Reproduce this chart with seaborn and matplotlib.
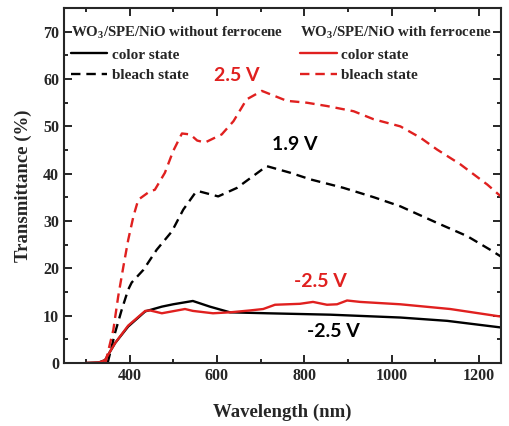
import numpy as np
import pandas as pd
import matplotlib
matplotlib.use("Agg")
import matplotlib.pyplot as plt
import seaborn as sns
from matplotlib.lines import Line2D
from matplotlib.ticker import MultipleLocator

# without ferrocene, color state (solid black)
wo_color_wl = [300, 330, 344, 367, 397, 436, 474, 500, 545, 584, 630, 715, 860, 1020, 1127, 1250]
wo_color_t = [0, 0.1, 0.6, 4.2, 7.7, 10.9, 11.9, 12.4, 13.1, 11.9, 10.7, 10.5, 10.2, 9.6, 8.9, 7.5]

# with ferrocene, color state (solid red)
w_color_wl = [300, 330, 344, 367, 397, 436, 447, 474, 527, 545, 591, 630, 676, 706, 733, 790,
              820, 852, 875, 898, 928, 1020, 1134, 1250]
w_color_t = [0, 0.1, 0.6, 4.2, 7.9, 11.0, 11.1, 10.5, 11.4, 11.0, 10.5, 10.7, 11.1, 11.4, 12.3, 12.5,
             12.9, 12.3, 12.4, 13.2, 12.9, 12.4, 11.4, 9.8]

# with ferrocene, bleach state (dashed red)
w_bleach_wl = [345, 348, 363, 374, 386, 397, 409, 420, 447, 458, 481, 500, 520, 539, 555, 573,
               611, 638, 668, 703, 760, 806, 852, 913, 959, 1020, 1066, 1104, 1157, 1219, 1250]
w_bleach_t = [0, 1.3, 7, 14, 20.4, 26, 31, 34.5, 36.3, 36.6, 40.2, 44.8, 48.5, 48.3, 47, 46.6,
              48.3, 51.1, 55.7, 57.5, 55.4, 55, 54.3, 53.2, 51.5, 50, 47.6, 45.1, 42, 37.7, 35.2]

# without ferrocene, bleach state (dashed black)
wo_bleach_wl = [350, 367, 382, 397, 405, 432, 462, 497, 523, 550, 558, 603, 646, 714, 768, 814,
                890, 960, 1020, 1104, 1173, 1226, 1250]
wo_bleach_t = [0, 6.4, 11.2, 15.5, 17, 19.7, 23.9, 27.8, 32.4, 35.9, 36.3, 35.2, 37, 41.6, 40.2, 38.8,
               37, 35, 33.1, 29.6, 26.8, 23.9, 22.5]

# voltage annotations (text, wavelength, transmittance, colour key)
annot_text = ["2.5 V", "1.9 V", "-2.5 V", "-2.5 V"]
annot_wl = [646, 779, 836, 866]
annot_t = [60.8, 46.2, 17.2, 6.6]
annot_sample = ["with", "without", "with", "without"]

RED = "#e0201f"
BLACK = "#000000"

frames = []
for wl, t, sample, state in [
    (wo_color_wl, wo_color_t, "without", "color"),
    (wo_bleach_wl, wo_bleach_t, "without", "bleach"),
    (w_color_wl, w_color_t, "with", "color"),
    (w_bleach_wl, w_bleach_t, "with", "bleach"),
]:
    frames.append(pd.DataFrame({"wl": wl, "T": t, "sample": sample, "state": state}))
df = pd.concat(frames, ignore_index=True)

sns.set_style("ticks")
plt.rcParams["font.family"] = ["Liberation Serif", "DejaVu Serif"]
plt.rcParams["font.weight"] = "bold"
plt.rcParams["mathtext.fontset"] = "custom"
plt.rcParams["mathtext.rm"] = "Liberation Serif:bold"
plt.rcParams["mathtext.it"] = "Liberation Serif:bold"
plt.rcParams["mathtext.default"] = "rm"

fig = plt.figure(figsize=(5.09, 4.26), dpi=100)
ax = fig.add_axes([0.1257, 0.148, 0.8583, 0.833])

palette = {"without": BLACK, "with": RED}
dashes = {"color": "", "bleach": (4, 2.5)}
sns.lineplot(data=df, x="wl", y="T", hue="sample", style="state", palette=palette,
             dashes=dashes, estimator=None, sort=False, lw=1.7, legend=False, ax=ax)

ax.set_xlim(250, 1250)
ax.set_ylim(0, 75)
ax.xaxis.set_major_locator(MultipleLocator(200))
ax.xaxis.set_minor_locator(MultipleLocator(100))
ax.yaxis.set_major_locator(MultipleLocator(10))
ax.yaxis.set_minor_locator(MultipleLocator(5))
ax.tick_params(which="both", direction="in", top=True, right=True, width=1.4, labelsize=11.5)
ax.tick_params(which="major", length=5.5)
ax.tick_params(which="minor", length=3)
ax.tick_params(axis="x", labeltop=False)
for sp in ax.spines.values():
    sp.set_linewidth(1.5)
for lab in ax.get_xticklabels() + ax.get_yticklabels():
    lab.set_fontweight("bold")

ax.set_xlabel("Wavelength (nm)", fontsize=13.5, fontweight="bold", labelpad=14)
ax.set_ylabel("Transmittance (%)", fontsize=13.5, fontweight="bold", labelpad=8)

for txt, x, y, s in zip(annot_text, annot_wl, annot_t, annot_sample):
    ax.text(x, y, txt, color=palette[s], ha="center", va="center",
            fontsize=14, fontweight="bold", family=["Lato", "DejaVu Sans"])

def make_legend(color, title, anchor):
    handles = [Line2D([], [], color=color, lw=1.7),
               Line2D([], [], color=color, lw=1.7, dashes=(4, 2.5))]
    leg = ax.legend(handles, ["color state", "bleach state"], title=title,
                    loc="upper left", bbox_to_anchor=anchor, frameon=False,
                    fontsize=11, title_fontsize=10.7, handlelength=2.4,
                    handletextpad=0.3, labelspacing=0.45, alignment="left",
                    borderaxespad=0, borderpad=0)
    leg.get_title().set_fontweight("bold")
    for t in leg.get_texts():
        t.set_fontweight("bold")
    return leg

leg1 = make_legend(BLACK, "WO$_3$/SPE/NiO without ferrocene", (0.015, 0.952))
ax.add_artist(leg1)
make_legend(RED, "WO$_3$/SPE/NiO with ferrocene", (0.54, 0.952))

fig.savefig("out.png", dpi=100)
